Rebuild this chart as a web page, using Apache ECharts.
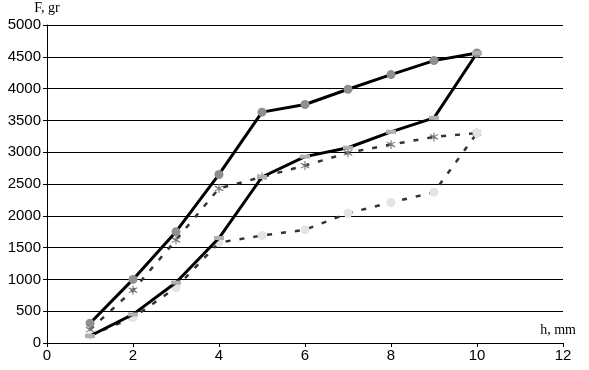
<!DOCTYPE html>
<html><head><meta charset="utf-8">
<script src="https://cdn.jsdelivr.net/npm/echarts@6/dist/echarts.min.js"></script>
<style>html,body{margin:0;padding:0;background:#fff}#c{width:589px;height:370px}</style>
</head><body><div id="c"></div>
<script>
var h = [1,2,3,4,5,6,7,8,9,10];
var solidLoad   = [310, 1000, 1750, 2650, 3630, 3750, 3990, 4220, 4440, 4560];
var solidUnload = [110, 450, 950, 1650, 2610, 2930, 3070, 3320, 3540, 4560];
var dashLoad    = [210, 830, 1620, 2430, 2610, 2790, 2990, 3120, 3240, 3300];
var dashUnload  = [120, 400, 870, 1580, 1690, 1780, 2040, 2210, 2370, 3300];
var yTicks = [0,500,1000,1500,2000,2500,3000,3500,4000,4500,5000];
var xTicks = [0,2,4,6,8,10,12];
var yName = 'F, gr', xName = 'h, mm';

function pairs(a){ return h.map(function(x,i){ return [x, a[i]]; }); }
var star = 'path://M-1,-10L1,-10L1,-2.7L7.4,-6.4L8.4,-4.6L2,-1L8.4,4.6L7.4,6.4L1,2.7L1,10L-1,10L-1,2.7L-7.4,6.4L-8.4,4.6L-2,1L-8.4,-4.6L-7.4,-6.4L-1,-2.7Z';

var chart = echarts.init(document.getElementById('c'));
chart.setOption({
  animation:false,
  backgroundColor:'#fff',
  grid:{left:47,right:26,top:25,bottom:27},
  xAxis:{type:'value',min:xTicks[0],max:xTicks[xTicks.length-1],interval:2,
    axisLine:{show:true,onZero:false,lineStyle:{color:'#000',width:1}},
    axisTick:{show:true,length:4,inside:false,lineStyle:{color:'#000'}},
    axisLabel:{color:'#000',fontFamily:'Liberation Sans',fontSize:15,margin:5,formatter:function(v){return String(v);}},
    splitLine:{show:false}},
  yAxis:{type:'value',min:yTicks[0],max:yTicks[yTicks.length-1],interval:500,
    name:yName,nameLocation:'end',nameGap:10,
    nameTextStyle:{color:'#000',fontFamily:'Liberation Serif',fontSize:14,align:'center'},
    axisLine:{show:true,lineStyle:{color:'#000',width:1}},
    axisTick:{show:true,length:4,lineStyle:{color:'#000'}},
    axisLabel:{color:'#000',fontFamily:'Liberation Sans',fontSize:15,margin:6,formatter:function(v){return String(v);}},
    splitLine:{show:true,lineStyle:{color:'#000',width:1}}},
  graphic:[{type:'text',right:13,bottom:33,style:{text:xName,fill:'#000',font:'14px "Liberation Serif"'}}],
  series:[
    {type:'line',data:pairs(dashLoad),symbol:star,symbolSize:9,
      lineStyle:{color:'#333',width:2.5,type:[5,9]},itemStyle:{color:'#777'},z:2},
    {type:'line',data:pairs(dashUnload),symbol:'circle',symbolSize:9,
      lineStyle:{color:'#333',width:2.5,type:[5,9]},itemStyle:{color:'#e4e4e4'},z:2},
    {type:'line',data:pairs(solidLoad),symbol:'circle',symbolSize:9,
      lineStyle:{color:'#000',width:3},itemStyle:{color:'#8f8f8f'},z:3},
    {type:'line',data:pairs(solidUnload),symbol:'rect',symbolSize:[10,4],
      lineStyle:{color:'#000',width:3},itemStyle:{color:'#b0b0b0'},z:3}
  ]
});
</script></body></html>
